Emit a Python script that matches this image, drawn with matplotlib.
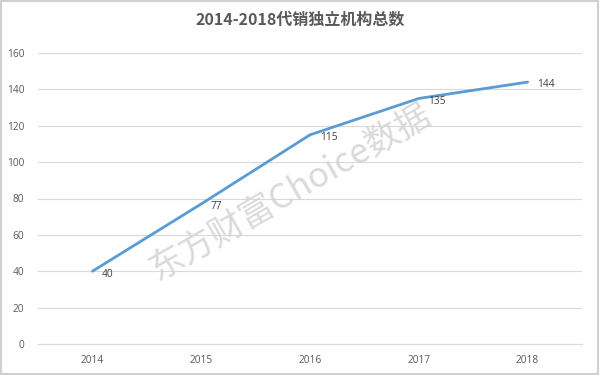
import matplotlib
matplotlib.use("Agg")
import matplotlib.pyplot as plt
from matplotlib.patches import Rectangle

years = ["2014", "2015", "2016", "2017", "2018"]
counts = [40, 77, 115, 135, 144]
yticks = [0, 20, 40, 60, 80, 100, 120, 140, 160]
title = "2014-2018代销独立机构总数"
watermark = "东方财富Choice数据"

plt.rcParams['font.family'] = ['Noto Sans CJK SC', 'DejaVu Sans']

fig = plt.figure(figsize=(6, 3.75), dpi=100)
ax = fig.add_axes([38/600, 1-344/375, (582-38)/600, (344-53)/375])

x = list(range(len(years)))
ax.plot(x, counts, color="#5B9BD5", lw=2.0, solid_joinstyle="round", solid_capstyle="round", zorder=3)
for xi, v in zip(x, counts):
    ax.annotate(str(v), (xi, v), xytext=(7, -2), textcoords="offset points",
                ha="left", va="center", fontsize=7.3, color="#404040",
                family=["Open Sans", "DejaVu Sans"], zorder=4)

ax.set_xlim(-0.5, len(years) - 0.5)
ax.set_ylim(0, 160)
ax.set_yticks(yticks)
ax.set_yticklabels([str(t) for t in yticks], family=["Open Sans", "DejaVu Sans"], fontsize=7.3, color="#595959")
ax.set_xticks(x)
ax.set_xticklabels(years, family=["Open Sans", "DejaVu Sans"], fontsize=7.3, color="#595959")
ax.tick_params(length=0, pad=8)
ax.tick_params(axis="y", pad=10)
ax.grid(axis="y", color="#d9d9d9", lw=0.8)
ax.set_axisbelow(True)
for s in ["top", "right", "left"]:
    ax.spines[s].set_visible(False)
ax.spines["bottom"].set_color("#d9d9d9")
ax.spines["bottom"].set_linewidth(0.8)

fig.text(0.5, 1-20/375, title, ha="center", va="center", fontsize=11.5,
         fontweight="bold", color="#595959")

fig.text(290/600, 1-192/375, watermark, ha="center", va="center", fontsize=25,
         rotation=30, color="#d6d6d6", alpha=0.9, zorder=5)

fig.patches.append(Rectangle((0.002, 0.003), 0.995, 0.994, transform=fig.transFigure,
                             fill=False, edgecolor="#d0d0d0", lw=1.5))

fig.savefig("out.png", dpi=100, facecolor="white")
